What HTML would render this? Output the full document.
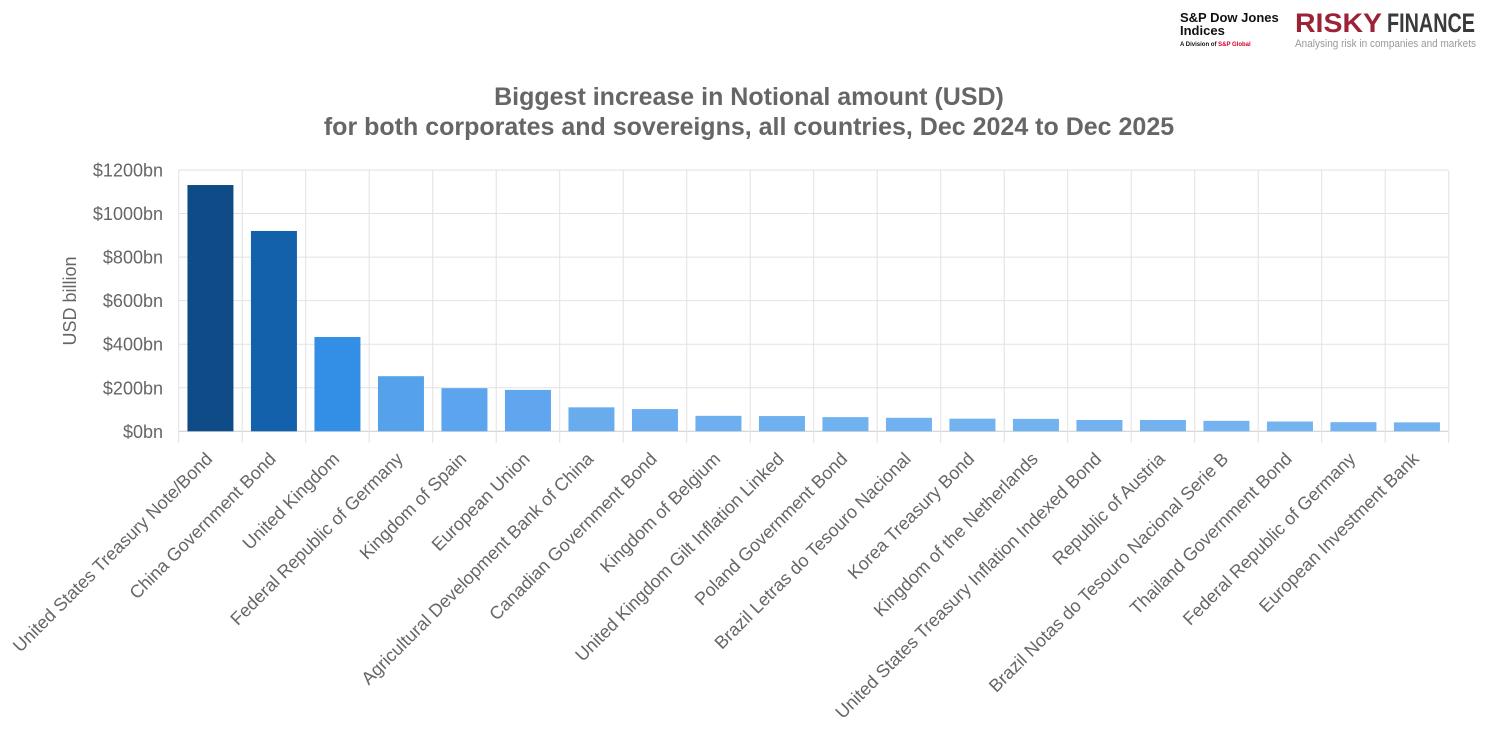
<!DOCTYPE html>
<html><head><meta charset="utf-8"><style>
body{margin:0;background:#fff;width:1499px;height:725px;overflow:hidden;font-family:"Liberation Sans",Arial,sans-serif}
</style></head><body>
<svg width="1499" height="725" xmlns="http://www.w3.org/2000/svg" font-family="Liberation Sans, Arial, sans-serif">
<text x="1180" y="22" font-size="13" font-weight="bold" fill="#111">S&amp;P Dow Jones</text>
<text x="1180" y="35" font-size="13" font-weight="bold" fill="#111">Indices</text>
<text x="1180" y="46" font-size="6" font-weight="bold" fill="#111">A Division of <tspan fill="#d6002a">S&amp;P Global</tspan></text>
<text x="1295" y="32" font-size="27" font-weight="bold" fill="#9b2335" textLength="87" lengthAdjust="spacingAndGlyphs">RISKY</text>
<text x="1387" y="32" font-size="27" font-weight="bold" fill="#3a3a3a" textLength="88" lengthAdjust="spacingAndGlyphs">FINANCE</text>
<text x="1295" y="47" font-size="11" fill="#999" textLength="181" lengthAdjust="spacingAndGlyphs">Analysing risk in companies and markets</text>
<text x="749" y="105" font-size="25" font-weight="bold" fill="#666" text-anchor="middle">Biggest increase in Notional amount (USD)</text>
<text x="749" y="135" font-size="25" font-weight="bold" fill="#666" text-anchor="middle">for both corporates and sovereigns, all countries, Dec 2024 to Dec 2025</text>
<text transform="translate(76,301) rotate(-90)" font-size="18" fill="#666" text-anchor="middle">USD billion</text>
<g id="grid" stroke="#e2e2e2" stroke-width="1"></g>
<g id="bars"></g>
<g id="lbl" font-size="18" fill="#666"></g>
</svg>
<script>
const ns="http://www.w3.org/2000/svg";
const x0=178.7,step=63.5,y0=431.3,sc=261.3/1200;
const names=["United States Treasury Note/Bond","China Government Bond","United Kingdom","Federal Republic of Germany","Kingdom of Spain","European Union","Agricultural Development Bank of China","Canadian Government Bond","Kingdom of Belgium","United Kingdom Gilt Inflation Linked","Poland Government Bond","Brazil Letras do Tesouro Nacional","Korea Treasury Bond","Kingdom of the Netherlands","United States Treasury Inflation Indexed Bond","Republic of Austria","Brazil Notas do Tesouro Nacional Serie B","Thailand Government Bond","Federal Republic of Germany","European Investment Bank"];
const vals=[1131,920,433,253,198,190,110,102,71,70,65,62,58,57,52,52,48,45,42,41];
const cols=["#0f4c87","#1461ab","#338fe6","#55a1ea","#5ca4ee","#60a6ef","#68acee","#6badef","#6eafef","#6fb0ef","#70b1ef","#71b1ef","#72b2ef","#72b2ef","#73b2ef","#73b2ef","#74b3ef","#74b3ef","#74b3ef","#74b3ef"];
function el(t,a,p){const e=document.createElementNS(ns,t);for(const k in a)e.setAttribute(k,a[k]);document.getElementById(p).appendChild(e);return e;}
for(let i=0;i<=6;i++){const y=y0-i*43.55;el("line",{x1:x0,x2:1448,y1:y,y2:y,stroke:i==0?"#ccc":"#e2e2e2"},"grid");
const t=el("text",{x:163,y:y+6.5,"text-anchor":"end","font-size":"18",fill:"#666"},"lbl");t.textContent="$"+(i*200)+"bn";}
for(let i=0;i<=20;i++){const x=x0+i*step;el("line",{x1:x,x2:x,y1:170,y2:443},"grid");}
names.forEach((n,i)=>{const cx=x0+step*(i+0.5);const h=vals[i]*sc;
el("rect",{x:cx-23,y:y0-h,width:46,height:h,fill:cols[i]},"bars");
const t=el("text",{x:cx+3,y:460,"text-anchor":"end",transform:`rotate(-45 ${cx+3} 460)`},"lbl");t.textContent=n;});
</script>
</body></html>
